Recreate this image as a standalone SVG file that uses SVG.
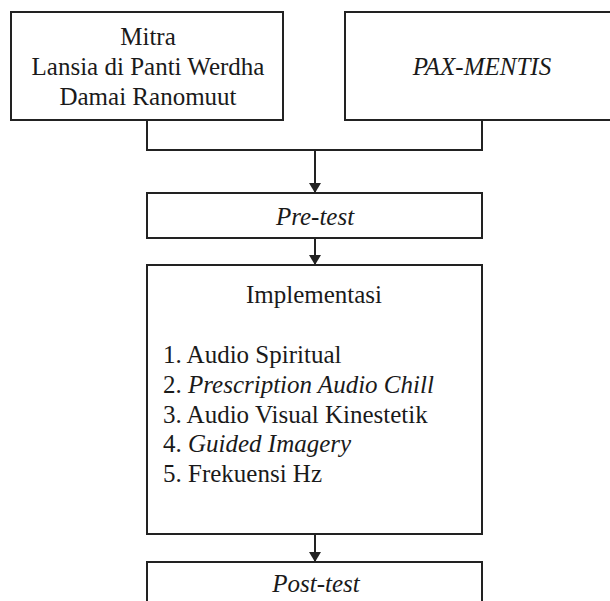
<svg xmlns="http://www.w3.org/2000/svg" width="610" height="601" viewBox="0 0 610 601">
<defs>
<style>
.box{fill:#fff;stroke:#222;stroke-width:2}
.conn{fill:none;stroke:#222;stroke-width:2}
text{font-family:"Liberation Serif","Times New Roman",serif;font-size:25px;fill:#1a1a1a}
.c{text-anchor:middle}
.i{font-style:italic}
</style>
<marker id="arr" viewBox="0 0 10 12" refX="10" refY="6" markerWidth="10" markerHeight="12" markerUnits="userSpaceOnUse" orient="auto">
<path d="M0,0 L10,6 L0,12 Z" fill="#222"/>
</marker>
</defs>
<rect width="610" height="601" fill="#fff"/>
<g id="node-mitra">
<rect class="box" x="11" y="12" width="272" height="108"/>
<text class="c" x="148" y="45">Mitra</text>
<text class="c" x="148" y="75">Lansia di Panti Werdha</text>
<text class="c" x="148" y="105">Damai Ranomuut</text>
</g>
<g id="node-pax">
<rect class="box" x="345" y="12" width="275" height="108"/>
<text class="c i" x="482" y="75">PAX-MENTIS</text>
</g>
<g id="node-pretest">
<rect class="box" x="147" y="193" width="335" height="45"/>
<text class="c i" x="315" y="225">Pre-test</text>
</g>
<g id="node-impl">
<rect class="box" x="147" y="265" width="335" height="269"/>
<text class="c" x="314" y="303">Implementasi</text>
<text x="163" y="363">1. Audio Spiritual</text>
<text x="163" y="393">2. <tspan class="i">Prescription Audio Chill</tspan></text>
<text x="163" y="423">3. Audio Visual Kinestetik</text>
<text x="163" y="452">4. <tspan class="i">Guided Imagery</tspan></text>
<text x="163" y="482">5. Frekuensi Hz</text>
</g>
<g id="node-posttest">
<rect class="box" x="147" y="562" width="335" height="60"/>
<text class="c i" x="316" y="592">Post-test</text>
</g>
<g id="connectors">
<path class="conn" d="M147,120 V150 H482 V120"/>
<path class="conn" d="M315,150 V193" marker-end="url(#arr)"/>
<path class="conn" d="M315,238 V265" marker-end="url(#arr)"/>
<path class="conn" d="M315,534 V562" marker-end="url(#arr)"/>
</g>
</svg>
